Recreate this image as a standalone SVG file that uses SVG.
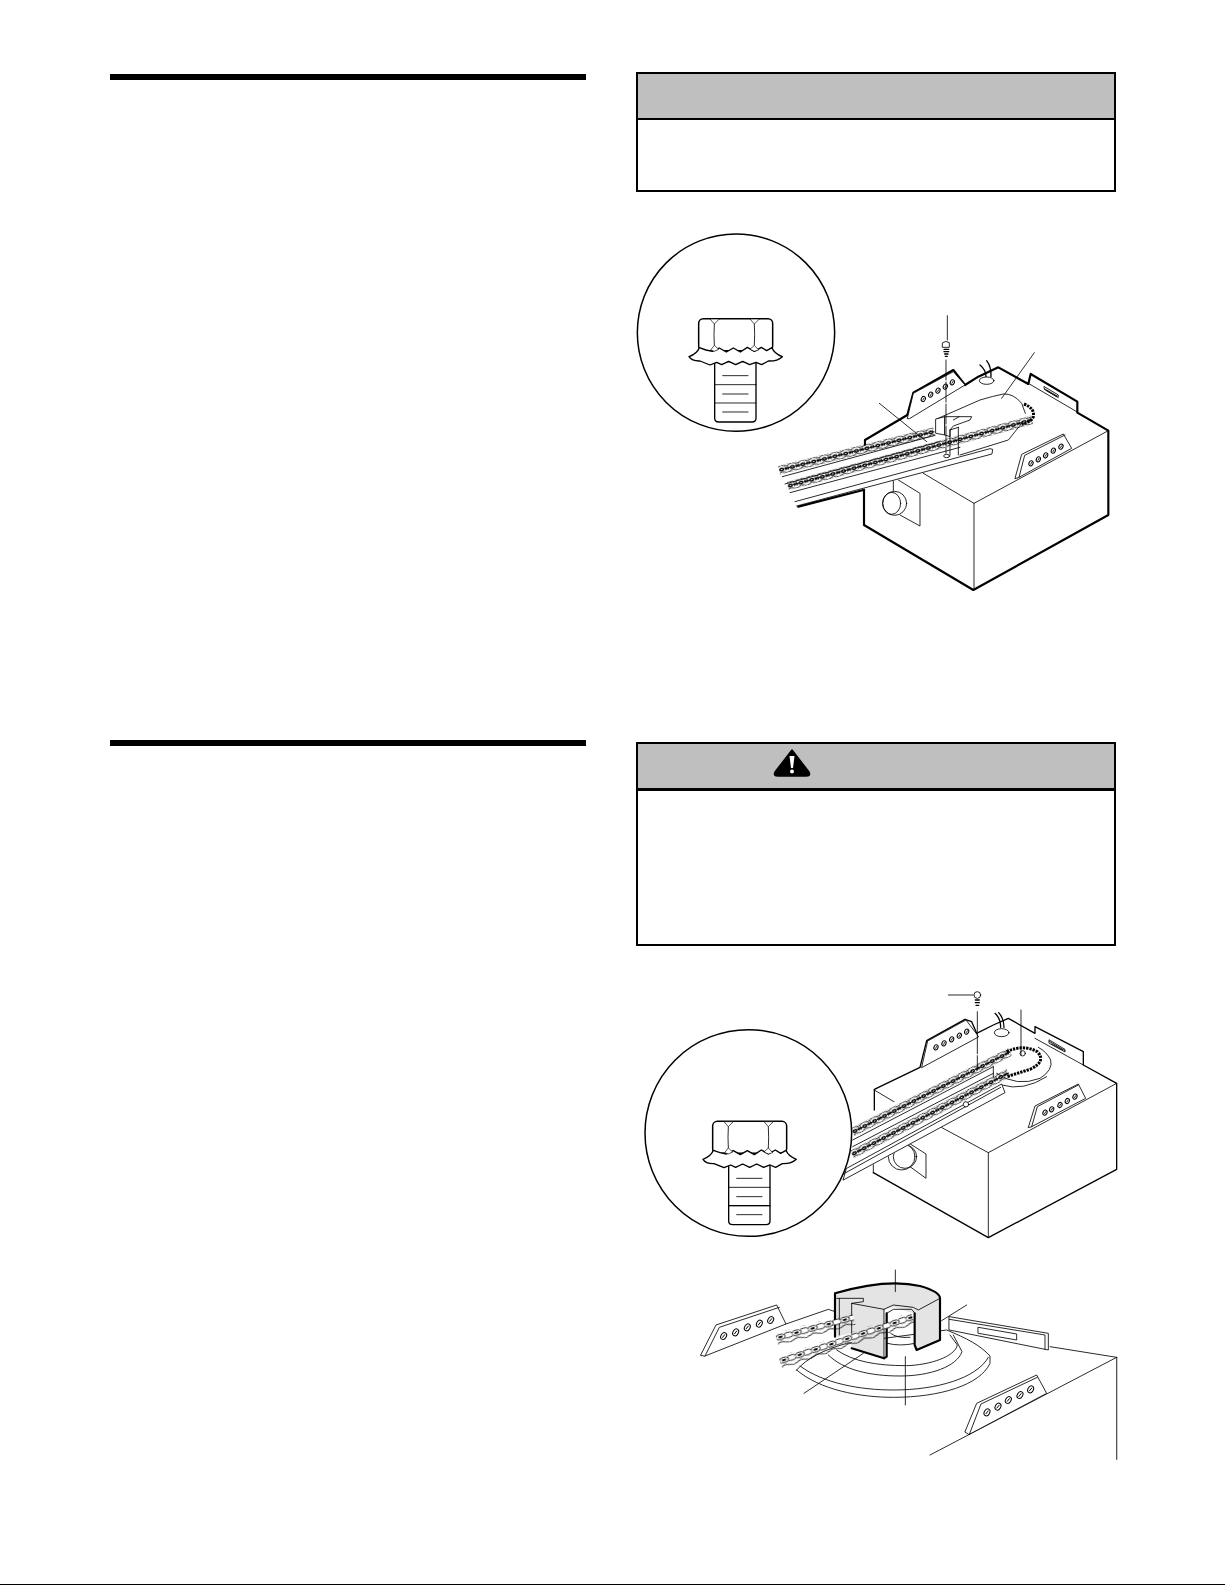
<svg xmlns="http://www.w3.org/2000/svg" width="1225" height="1585" viewBox="0 0 1225 1585">
<style>
.n{fill:none;stroke:#000;stroke-linejoin:round;stroke-linecap:round}
.w{fill:#fff;stroke:#000;stroke-linejoin:round;stroke-linecap:round;stroke-width:2.5}
.t{stroke-width:2.5}.m{stroke-width:4}.k{stroke-width:6.5}
.panel{fill:#fff;stroke:#000;stroke-width:2}
.head{fill:#bfbfbf}
.wrap{fill:none;stroke:#000;stroke-width:9;stroke-dasharray:7 3}
</style>
<defs>
<pattern id="ch" width="33" height="26" patternUnits="userSpaceOnUse">
<path d="M0 3q8-6 16 0t17 0M0 23q8-6 16 0t17 0" fill="none" stroke="#000" stroke-width="2.500"/>
<ellipse cx="8" cy="13" rx="8" ry="6" fill="#000"/><ellipse cx="8" cy="13" rx="3" ry="1.600" fill="#fff"/>
<path d="M16 13h17M19 8l11 10M30 8l-11 10" stroke="#000" stroke-width="3" fill="none"/>
</pattern>
<pattern id="cb" width="50" height="38" patternUnits="userSpaceOnUse">
<path d="M0 33q12-8 25 0t25 0" fill="none" stroke="#000" stroke-width="2.500"/>
<ellipse cx="37" cy="15" rx="14" ry="8" fill="#fff" stroke="#000" stroke-width="2.500"/>
<ellipse cx="13" cy="15" rx="14" ry="8" fill="#fff" stroke="#000" stroke-width="2.500"/>
<rect x="7" y="12" width="12" height="6" fill="#000"/>
</pattern>
<g id="hl"><ellipse rx="6" ry="8" transform="rotate(25)" fill="#fff" stroke="#000" stroke-width="3"/><path d="M-2 4L3-4" stroke="#000" stroke-width="2.500"/></g>
<g id="hb"><ellipse rx="8" ry="11" transform="rotate(30)" fill="#fff" stroke="#000" stroke-width="3"/><path d="M-4 5L4-5" stroke="#000" stroke-width="3"/></g>
<g id="bolt">
<path class="w" style="stroke-width:4" d="M284 425V594Q284 606 296 606H396Q408 606 408 594V425Z"/>
<path class="n t" d="M284 494H408M284 549H408M308 467H384M308 522H384M308 576H384"/>
<rect class="w" style="stroke-width:4.500" x="236" y="296" width="222" height="96" rx="14"/>
<path class="n t" d="M283 312Q281 344 283 376M403 312Q405 344 403 376"/>
<path d="M270 297L283 312L298 297ZM390 297L403 312L418 297Z" fill="#fff" stroke="#000" stroke-width="2"/>
<path class="w" style="stroke-width:4" d="M238 383Q232 400 207 410Q216 424 240 423L270 435L290 427L305 434L326 424L347 434L368 424L389 434L408 427L425 434L445 423Q472 424 487 410Q462 400 456 383L440 392L424 382L403 394L382 382L361 396L340 384L319 396L298 384L277 394L258 390Z"/>
<path d="M272 390L283 376L296 388L283 394ZM390 388L403 376L416 390L403 394Z" fill="#fff" stroke="#000" stroke-width="2"/>
</g>
</defs>
<rect width="1225" height="1585" fill="#fff"/>
<g id="heading-rule-1"><rect x="110" y="74" width="476" height="6"/></g>
<g id="heading-rule-2"><rect x="110" y="740" width="476" height="6"/></g>
<g id="page-edge"><rect x="0" y="1584" width="1225" height="1"/></g>
<g id="notice-panel">
<rect class="panel" x="637" y="73" width="478" height="118"/>
<rect class="head" x="638" y="74" width="476" height="44"/>
<rect x="636" y="118" width="480" height="2"/>
</g>
<g id="warning-panel">
<rect class="panel" x="637" y="743" width="478" height="202"/>
<rect class="head" x="638" y="744" width="476" height="44"/>
<rect x="636" y="788" width="480" height="3"/>
<path d="M792 750L775 772Q773 776 778 776H806Q811 776 809 772Z" stroke="#000" stroke-width="1.500" stroke-linejoin="round"/>
<path d="M789.500 756H794.500L793 768H791Z" fill="#fff"/><circle cx="792" cy="771.500" r="2" fill="#fff"/>
</g>

<g id="opener-1" transform="translate(620 220) scale(.33333)">
<g id="detail-1"><circle cx="348" cy="338" r="296" fill="#fff" stroke="#000" stroke-width="4.500"/><use href="#bolt"/></g>
<g id="housing-1">
<path class="n k" d="M732 808V915L1060 1110L1465 885V632L1372 578V545L1232 462L1225 492L1135 442L1075 470L1035 495L1000 450L880 518L862 585L735 660V700"/>
<path class="n t" d="M1465 632L1062 850L910 760M1062 850V1108"/>
<path class="w" d="M862 595L880 520L1000 455L1035 495L870 595Z"/>
<use href="#hl" x="910" y="537"/><use href="#hl" x="932" y="524"/><use href="#hl" x="954" y="512"/><use href="#hl" x="976" y="500"/><use href="#hl" x="997" y="487"/>
<path class="w" d="M1185 775L1205 703L1330 642L1355 685L1197 772Z"/><path class="n t" d="M1197 772L1214 706L1335 645"/>
<use href="#hl" x="1233" y="730"/><use href="#hl" x="1255" y="718"/><use href="#hl" x="1277" y="706"/><use href="#hl" x="1300" y="692"/><use href="#hl" x="1323" y="680"/>
<path class="n t" d="M1225 490L1370 575M1273 500L1315 525V530L1273 506ZM1273 508L1315 533M1280 512L1310 530"/>
<path class="n m" d="M1080 435Q1098 450 1098 470M1100 422Q1114 440 1113 470"/>
<ellipse class="w" cx="1100" cy="482" rx="22" ry="11"/>
</g>
<g id="cylinder-1">
<path class="n t" d="M820 780V812M835 780L900 820V918L840 885"/>
<circle class="w" cx="824" cy="850" r="36"/><ellipse class="n t" cx="815" cy="850" rx="27" ry="33"/>
</g>
<g id="rail-1">
<path fill="#fff" d="M478 745L945 622L1010 625L1080 540L1150 522Q1180 520 1210 555L1240 590L1170 655L1118 700L530 862Z"/>
<path class="n k" d="M535 860L730 810"/>
<path class="w" d="M525 845L1110 686L1118 688L1116 702L530 858"/>
<path class="n t" d="M487 770L945 646M495 792L960 665M510 818L1020 682"/>
<path class="n t" d="M950 597L1080 540Q1120 528 1150 522Q1180 520 1205 550L1216 580M1020 705L1165 660L1205 610"/>
<path class="wrap" d="M1212 552Q1245 565 1240 590Q1235 605 1205 612"/>
<rect fill="url(#ch)" width="480" height="26" transform="translate(474 738) rotate(-14)"/>
<rect fill="url(#ch)" width="760" height="26" transform="translate(500 786) rotate(-15.200)"/>
</g>
<g id="cover-1">
<path class="w" d="M948 597L975 590V645L948 640Z"/>
<path class="w" d="M975 590L1018 590L1055 590L1050 600L1000 618L990 630V650L975 645Z"/>
<path class="n t" d="M1018 590L1000 600M990 630V705M1015 622V705M990 630L1015 622"/>
</g>
<g id="connectors-1">
<path class="n t" d="M982 287V360M1243 398L1145 535M778 550L920 665"/>
<path class="n t" d="M978 420V700" stroke-dasharray="60 6"/>
<ellipse class="w" cx="980" cy="708" rx="9" ry="5"/>
<path class="w" d="M968 368Q978 360 988 368V382H968Z"/><path class="n m" d="M972 388H986M972 395H986M974 402H984M976 409H982"/>
</g>
</g>

<g id="opener-2" transform="translate(630 970) scale(.33333)">
<g id="housing-2">
<path class="n m" d="M730 608L1075 803L1460 598V340L1360 285V245L1215 170V190L1135 145L1090 165L1040 190L1025 155L1005 148L890 212L870 292L733 358V420"/>
<path class="n t" d="M1460 340L1075 548L930 470M1075 548V800M733 360L800 400M730 580V608"/>
<path class="w" d="M875 292L893 213L1008 150L1040 192L1045 200Z"/>
<use href="#hl" x="918" y="232"/><use href="#hl" x="942" y="220"/><use href="#hl" x="965" y="208"/><use href="#hl" x="988" y="197"/><use href="#hl" x="1010" y="185"/>
<path class="w" d="M1195 472L1215 408L1345 342L1367 385L1205 470Z"/><path class="n t" d="M1205 470L1222 410L1345 345"/>
<use href="#hl" x="1245" y="428"/><use href="#hl" x="1265" y="418"/><use href="#hl" x="1290" y="405"/><use href="#hl" x="1312" y="393"/><use href="#hl" x="1335" y="380"/>
<path class="n t" d="M1215 205L1360 285M1258 210L1305 238V246L1258 220ZM1258 214L1305 242M1265 222L1298 240"/>
<path class="n m" d="M1095 130Q1112 145 1112 172M1106 128Q1122 145 1122 172"/>
<ellipse class="w" cx="1115" cy="188" rx="22" ry="12"/>
</g>
<g id="cylinder-2">
<path class="n t" d="M830 515L888 552V625L840 590"/>
<circle class="n t" cx="815" cy="560" r="40"/><circle class="n t" cx="825" cy="560" r="35"/>
</g>
<g id="rail-2">
<path fill="#fff" d="M640 470L1140 225L1250 235L1125 368L640 632Z"/>
<path class="w" d="M1100 310Q1160 352 1230 325Q1270 300 1262 270Q1250 245 1225 232"/>
<path class="n t" d="M1115 345Q1180 365 1250 320"/>
<path class="w" d="M640 630L1125 368L1115 342L650 595Z"/>
<path class="n t" d="M640 612L1112 352M668 510L1090 290M668 530L1090 310M1090 290V320"/>
<rect fill="url(#ch)" width="530" height="26" transform="translate(662 475) rotate(-27)"/>
<rect fill="url(#ch)" width="530" height="26" transform="translate(660 542) rotate(-27.500)"/>
<path class="wrap" d="M1130 245Q1180 222 1222 245Q1250 275 1200 298L1130 320"/>
<circle class="w" cx="1178" cy="250" r="8"/><circle class="w" cx="1008" cy="403" r="8"/>
</g>
<g id="detail-2"><circle cx="355" cy="489" r="310" fill="#fff" stroke="#000" stroke-width="4.500"/><use href="#bolt" x="12" y="158"/><path class="n m" d="M296 707H420"/></g>
<g id="connectors-2">
<path class="n t" d="M955 75H1030M1173 120V255"/>
<path class="n t" d="M1042 125V300" stroke-dasharray="60 6"/>
<circle class="w" cx="1042" cy="75" r="10"/><path class="n m" d="M1036 90H1048M1036 98H1048M1038 106H1046"/>
</g>
</g>

<g id="sprocket-detail" transform="translate(680 1250) scale(.33333)">
<g id="housing-3">
<path class="n m" d="M1310 322V628" style="stroke:#555"/>
<path class="n t" d="M750 615L1310 322L1110 290"/>
<path class="w" d="M855 545L890 460L1070 375L1100 430L868 553Z"/><path class="n t" d="M868 553L903 462L1072 382"/>
<use href="#hb" x="921" y="487"/><use href="#hb" x="954" y="470"/><use href="#hb" x="985" y="450"/><use href="#hb" x="1020" y="435"/><use href="#hb" x="1052" y="418"/>
<path class="w" d="M62 315L108 225L290 165L318 222L75 318Z"/><path class="n t" d="M75 318L118 232L298 172M318 222L445 178L465 185"/>
<use href="#hb" x="131" y="258"/><use href="#hb" x="167" y="247"/><use href="#hb" x="202" y="232"/><use href="#hb" x="238" y="221"/><use href="#hb" x="272" y="210"/>
<path class="w" d="M808 200L1105 250V300L808 240Z"/><path class="n t" d="M808 208L1095 255V298M895 232L1010 252V270L895 250Z"/>
</g>
<g id="sprocket-base">
<path class="w" d="M350 360C420 420 540 442 640 442C780 442 900 405 930 340V318C900 285 860 265 800 240L500 280C430 300 380 325 350 360Z"/>
<path class="n t" d="M360 348C430 400 540 420 640 420C770 420 890 385 925 322"/>
<path class="n t" d="M445 315C490 360 570 378 660 378C750 378 830 350 846 305L820 255"/>
<path class="n t" d="M470 300C520 335 590 347 680 347C750 345 825 320 832 285L810 255"/>
<path class="n t" d="M632 250Q650 265 690 262M622 280Q660 290 705 280"/>
</g>
<g id="cover-3">
<path fill="#e4e4e4" d="M465 130Q620 85 720 108Q780 125 780 145V270L705 300L700 190L640 172L612 178V325L515 295V250L465 260Z"/>
<path class="n t" d="M470 145H550V155L515 160L612 178L640 165L700 172L715 180L780 145M515 160V250M478 145V255M612 178V325M620 270V190L640 178H695L705 190"/>
<path class="n k" d="M465 260V130Q620 85 720 108Q780 125 780 145V270L710 300L704 285V190M515 295L612 325M620 190V320L612 325"/>
</g>
<g id="chain-3">
<rect fill="url(#cb)" width="240" height="38" transform="translate(285 250) rotate(-15)"/>
<rect fill="url(#cb)" width="420" height="38" transform="translate(295 320) rotate(-18.500)"/>
</g>
<g id="connectors-3">
<path class="n t" d="M646 60V125M860 165L785 212M372 430L550 310M676 320V465"/>
</g>
</g>
</svg>
